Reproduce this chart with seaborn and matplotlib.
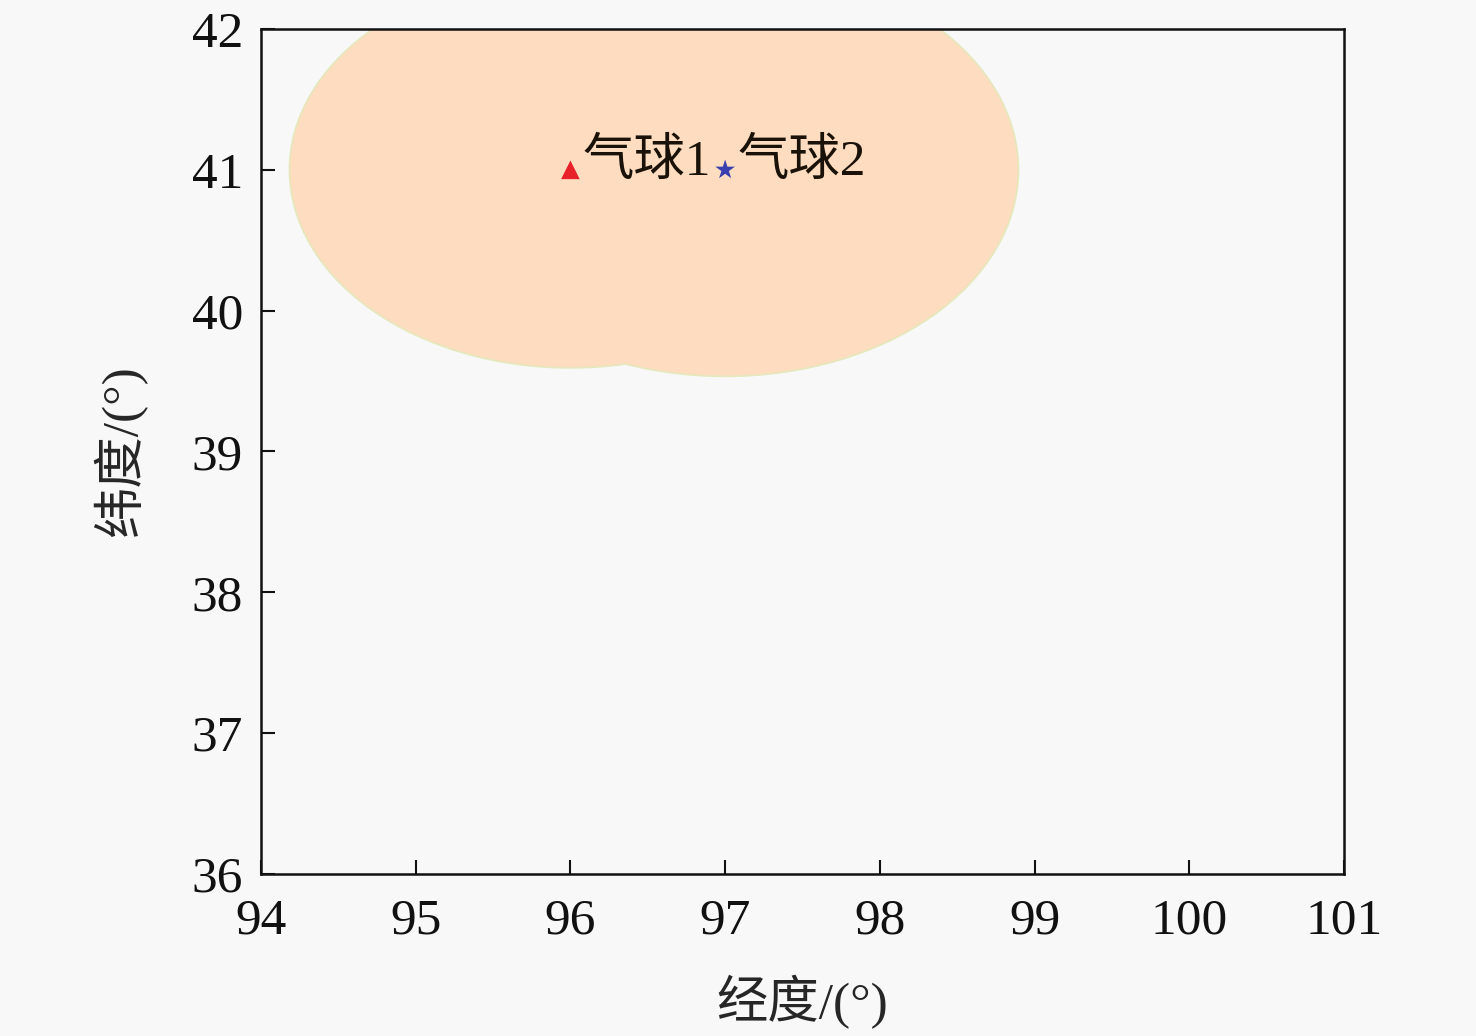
import matplotlib.pyplot as plt
import seaborn as sns
import pandas as pd
from matplotlib.patches import Ellipse

# balloon positions and coverage (degrees)
names = ["气球1", "气球2"]
lon = [96.0, 97.0]
lat = [41.0, 41.0]
half_lon = [1.81, 1.89]
half_lat = [1.40, 1.46]
markers = ["^", "*"]
colors = ["#e8202a", "#3a3fb0"]

x_ticks = [94, 95, 96, 97, 98, 99, 100, 101]
y_ticks = [36, 37, 38, 39, 40, 41, 42]

sns.set_style("ticks")
plt.rcParams['font.family'] = ['Liberation Serif', 'Noto Sans CJK SC']
plt.rcParams['axes.unicode_minus'] = False

fig = plt.figure(figsize=(14.76, 10.36), dpi=100)
fig.patch.set_facecolor("#f8f8f8")
ax = fig.add_axes([0.1768, 0.1564, 0.7338, 0.8156])
ax.set_facecolor("#f8f8f8")

# outlines underneath, fills on top so the overlap shows no inner edge
for i in range(len(names)):
    ax.add_patch(Ellipse((lon[i], lat[i]), 2 * half_lon[i], 2 * half_lat[i],
                         facecolor="none", edgecolor="#e6e8bc", linewidth=2.5, zorder=1))
for i in range(len(names)):
    ax.add_patch(Ellipse((lon[i], lat[i]), 2 * half_lon[i], 2 * half_lat[i],
                         facecolor="#fddcbf", edgecolor="none", zorder=2))

df = pd.DataFrame({"lon": lon, "lat": lat, "name": names})
sns.scatterplot(data=df, x="lon", y="lat", hue="name", style="name",
                markers=dict(zip(names, markers)), palette=dict(zip(names, colors)),
                s=[180, 220], legend=False, ax=ax, zorder=3, linewidth=0)

for i in range(len(names)):
    ax.text(lon[i] + 0.08, lat[i] + 0.05, names[i], fontsize=37, color="#1a1208",
            va="center", ha="left", zorder=4)

ax.set_xlim(94, 101)
ax.set_ylim(36, 42)
ax.set_xticks(x_ticks)
ax.set_yticks(y_ticks)
ax.tick_params(direction="in", labelsize=37, length=10, width=1.5, colors="#111111")
ax.tick_params(axis="x", pad=17)
ax.tick_params(axis="y", pad=13)
for s in ax.spines.values():
    s.set_linewidth(1.8)
    s.set_color("#111111")
ax.set_xlabel("经度/(°)", fontsize=37, labelpad=22)
ax.set_ylabel("纬度/(°)", fontsize=37, labelpad=32)

fig.savefig("out.png", dpi=100, facecolor=fig.get_facecolor())
